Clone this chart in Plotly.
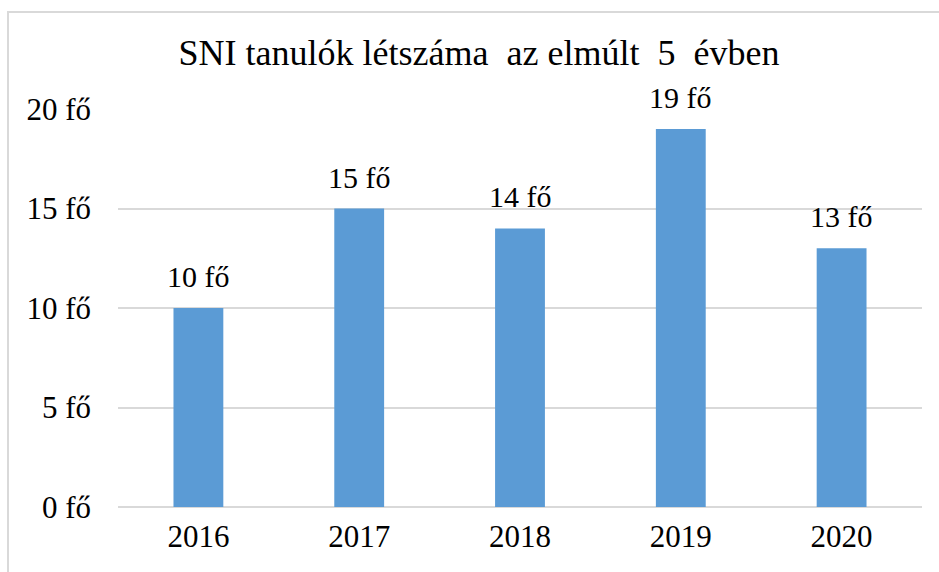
import plotly.graph_objects as go

years = ["2016", "2017", "2018", "2019", "2020"]
counts = [10, 15, 14, 19, 13]
labels = [f"{v} fő" for v in counts]
tick_vals = [0, 5, 10, 15, 20]
tick_text = [f"{v} fő" for v in tick_vals]
title_text = "SNI tanulók létszáma\u00a0 az elmúlt\u00a0 5\u00a0 évben"

FONT = "Liberation Serif, Times New Roman, serif"
W, H = 939, 572
L, R, T, B = 118, 17, 109, 65
pw, ph = W - L - R, H - T - B

fig = go.Figure(go.Bar(
    x=years, y=counts,
    marker=dict(color="#5B9BD5", line=dict(width=0)),
    hoverinfo="x+y",
))

fig.update_layout(
    width=W, height=H,
    margin=dict(l=L, r=R, t=T, b=B, autoexpand=False),
    paper_bgcolor="white", plot_bgcolor="white",
    bargap=0.69,
    showlegend=False,
    title=dict(text=title_text, x=479 / W, xanchor="center",
               y=1 - 52 / H, yanchor="middle",
               font=dict(family=FONT, size=36, color="#000000")),
    xaxis=dict(type="category", range=[-0.5, len(years) - 0.5], showgrid=False, showline=False,
               ticks="", tickfont=dict(family=FONT, size=31, color="#000000"),
               ticklabelstandoff=8),
    yaxis=dict(range=[0, 20], tickvals=tick_vals, ticktext=tick_text, showgrid=True,
               gridcolor="#d9d9d9", gridwidth=1.5, zeroline=True, zerolinecolor="#d9d9d9",
               zerolinewidth=1.5, showline=False, ticks="", ticklabelstandoff=26,
               tickfont=dict(family=FONT, size=31, color="#000000")),
    annotations=[dict(x=i, y=y, xref="x", yref="y", text=t, showarrow=False,
                      xanchor="center", yanchor="bottom",
                      yshift=13, font=dict(family=FONT, size=30, color="#000000"))
                 for i, (y, t) in enumerate(zip(counts, labels))],
    shapes=[dict(type="rect", xref="paper", yref="paper",
                 x0=(8 - L) / pw, x1=(W + 10 - L) / pw,
                 y0=-(B + 10) / ph, y1=((H - B) - 12) / ph,
                 line=dict(color="#d9d9d9", width=2), fillcolor="rgba(0,0,0,0)", layer="below")],
)

fig.write_html("out.html")
